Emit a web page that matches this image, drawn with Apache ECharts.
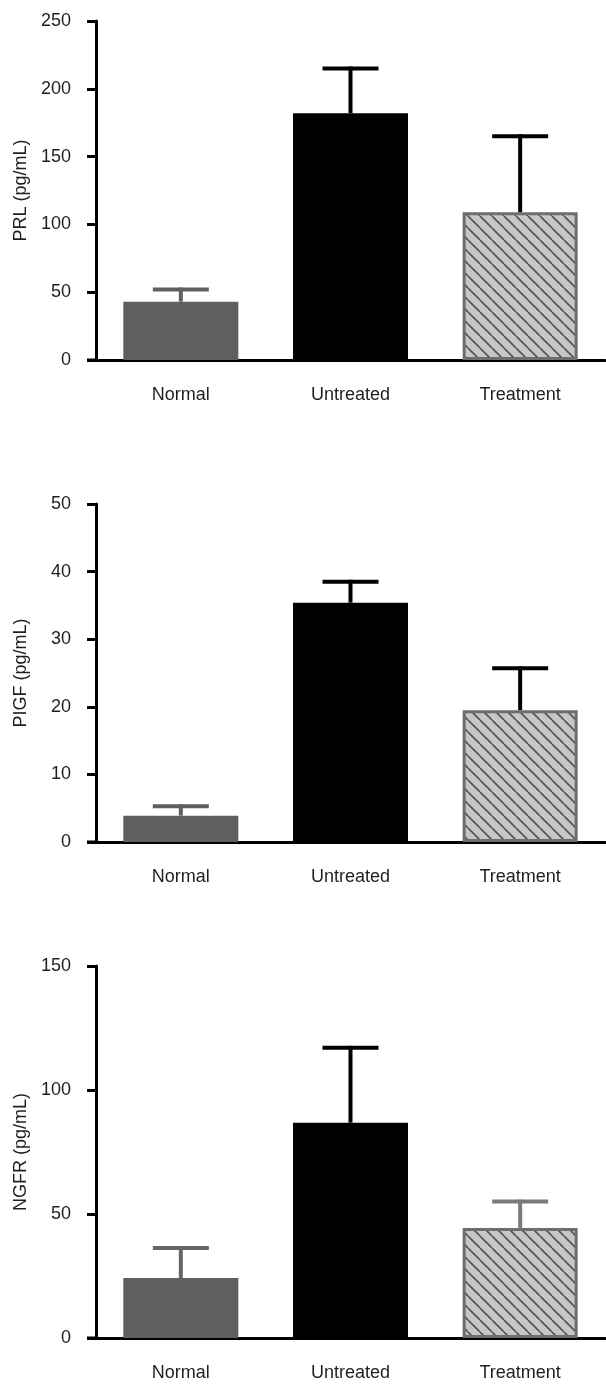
<!DOCTYPE html>
<html>
<head>
<meta charset="utf-8">
<script src="https://cdn.jsdelivr.net/npm/echarts@6/dist/echarts.min.js"></script>
<style>
html,body{margin:0;padding:0;background:#fff;}
#chart{width:606px;height:1384px;}
</style>
</head>
<body>
<div id="chart"></div>
<script>
// ---- Data ----
const categories = ['Normal', 'Untreated', 'Treatment'];

const prlMean  = [43, 182, 109];
const prlUpper = [52, 215, 165];

const pigfMean  = [3.9, 35.4, 19.5];
const pigfUpper = [5.3, 38.5, 25.7];

const ngfrMean  = [24.2, 86.8, 44.4];
const ngfrUpper = [36.3, 117, 55];

const axisNames = ['PRL (pg/mL)', 'PIGF (pg/mL)', 'NGFR (pg/mL)'];
const yMax = [250, 50, 150];
const yInterval = [50, 10, 50];

// ---- Styles ----
const FONT = '"Liberation Sans", Arial, Helvetica, sans-serif';
const TEXT = '#1f1f1f';
const grids = [
  {left: 96, top: 21, width: 509, height: 339},
  {left: 96, top: 504, width: 509, height: 338},
  {left: 96, top: 966, width: 509, height: 372}
];
const errColors = [
  ['#5f5f5f', '#000000', '#000000'],
  ['#5f5f5f', '#000000', '#000000'],
  ['#666666', '#000000', '#7a7a7a']
];

// hatch pattern
const pc = document.createElement('canvas');
const S = 12;
pc.width = S; pc.height = S;
const ctx = pc.getContext('2d');
ctx.fillStyle = '#c6c6c6';
ctx.fillRect(0, 0, S, S);
ctx.strokeStyle = '#555555';
ctx.lineWidth = 1.7;
[-S, 0, S].forEach(o => {
  ctx.beginPath(); ctx.moveTo(o, 0); ctx.lineTo(o + S, S); ctx.stroke();
});

const barStyles = [
  {color: '#5f5f5f'},
  {color: '#000000'},
  {color: {image: pc, repeat: 'repeat'}, borderColor: '#6e6e6e', borderWidth: 3}
];

const datasets = [[prlMean, prlUpper], [pigfMean, pigfUpper], [ngfrMean, ngfrUpper]];

const option = {
  animation: false,
  backgroundColor: '#fff',
  grid: grids.map(g => Object.assign({containLabel: false}, g)),
  xAxis: grids.map((g, i) => ({
    type: 'category',
    gridIndex: i,
    data: categories,
    axisLine: {lineStyle: {color: '#000', width: 3}},
    axisTick: {alignWithLabel: true, length: 8, lineStyle: {color: '#000', width: 3}},
    axisLabel: {color: TEXT, fontSize: 18, fontFamily: FONT, margin: 26},
    splitLine: {show: false}
  })),
  yAxis: grids.map((g, i) => ({
    type: 'value',
    gridIndex: i,
    min: 0,
    max: yMax[i],
    interval: yInterval[i],
    name: axisNames[i],
    nameLocation: 'middle',
    nameGap: 66,
    nameRotate: 90,
    nameTextStyle: {color: TEXT, fontSize: 18, fontFamily: FONT},
    axisLine: {show: true, lineStyle: {color: '#000', width: 3}},
    axisTick: {show: true, length: 9, lineStyle: {color: '#000', width: 3}},
    axisLabel: {color: TEXT, fontSize: 18, fontFamily: FONT, margin: 25},
    splitLine: {show: false}
  })),
  graphic: grids.map(g => ({
    type: 'line',
    shape: {x1: g.left - 9, y1: g.top + g.height, x2: g.left, y2: g.top + g.height},
    style: {stroke: '#000', lineWidth: 3}
  })),
  series: []
};

datasets.forEach((d, i) => {
  option.series.push({
    type: 'bar',
    xAxisIndex: i,
    yAxisIndex: i,
    barWidth: 115,
    data: d[0].map((v, k) => ({value: v, itemStyle: barStyles[k]})),
    z: 2
  });
  option.series.push({
    type: 'custom',
    xAxisIndex: i,
    yAxisIndex: i,
    z: 3,
    data: d[0].map((v, k) => [k, v, d[1][k]]),
    renderItem: function (params, api) {
      const x = api.value(0), m = api.value(1), u = api.value(2);
      const p0 = api.coord([x, m]);
      const p1 = api.coord([x, u]);
      const col = errColors[i][params.dataIndex];
      return {
        type: 'group',
        children: [
          {type: 'line', shape: {x1: p0[0], y1: p0[1], x2: p1[0], y2: p1[1] - 2}, style: {stroke: col, lineWidth: 4}},
          {type: 'line', shape: {x1: p1[0] - 28, y1: p1[1], x2: p1[0] + 28, y2: p1[1]}, style: {stroke: col, lineWidth: 4}}
        ]
      };
    }
  });
});

const chart = echarts.init(document.getElementById('chart'), null, {renderer: 'canvas'});
chart.setOption(option);
</script>
</body>
</html>
